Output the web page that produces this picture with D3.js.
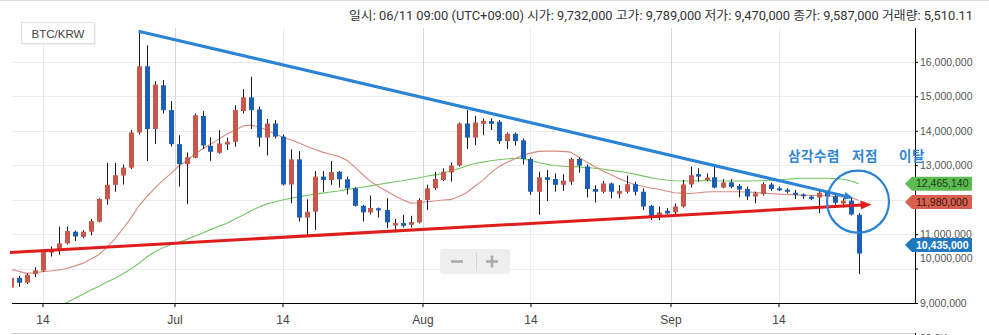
<!DOCTYPE html>
<html><head><meta charset="utf-8">
<script src="https://cdn.jsdelivr.net/npm/d3@7"></script>
<style>
html,body{margin:0;padding:0;background:#fff;}
svg{display:block;font-family:"Liberation Sans",Arial,sans-serif;}
</style></head><body>
<svg id="c" width="989" height="335"></svg>
<script>
// ---- data (prices in million KRW) ----
const dates = ["2019-06-10","2019-06-11","2019-06-12","2019-06-13","2019-06-14","2019-06-15","2019-06-16","2019-06-17","2019-06-18","2019-06-19","2019-06-20","2019-06-21","2019-06-22","2019-06-23","2019-06-24","2019-06-25","2019-06-26","2019-06-27","2019-06-28","2019-06-29","2019-06-30",
"2019-07-01","2019-07-02","2019-07-03","2019-07-04","2019-07-05","2019-07-06","2019-07-07","2019-07-08","2019-07-09","2019-07-10","2019-07-11","2019-07-12","2019-07-13","2019-07-14","2019-07-15","2019-07-16","2019-07-17","2019-07-18","2019-07-19","2019-07-20","2019-07-21","2019-07-22","2019-07-23","2019-07-24","2019-07-25","2019-07-26","2019-07-27","2019-07-28","2019-07-29","2019-07-30","2019-07-31",
"2019-08-01","2019-08-02","2019-08-03","2019-08-04","2019-08-05","2019-08-06","2019-08-07","2019-08-08","2019-08-09","2019-08-10","2019-08-11","2019-08-12","2019-08-13","2019-08-14","2019-08-15","2019-08-16","2019-08-17","2019-08-18","2019-08-19","2019-08-20","2019-08-21","2019-08-22","2019-08-23","2019-08-24","2019-08-25","2019-08-26","2019-08-27","2019-08-28","2019-08-29","2019-08-30","2019-08-31",
"2019-09-01","2019-09-02","2019-09-03","2019-09-04","2019-09-05","2019-09-06","2019-09-07","2019-09-08","2019-09-09","2019-09-10","2019-09-11","2019-09-12","2019-09-13","2019-09-14","2019-09-15","2019-09-16","2019-09-17","2019-09-18","2019-09-19","2019-09-20","2019-09-21","2019-09-22","2019-09-23","2019-09-24"];

const open = [9.45,9.732,9.59,9.84,9.94,10.46,10.54,10.73,11.07,10.92,11.07,11.36,12.01,12.43,12.70,12.93,13.95,15.87,14.05,15.32,14.60,
13.61,13.03,13.22,14.43,13.56,13.36,13.60,13.68,14.57,14.97,14.62,13.80,14.21,13.83,12.44,13.17,11.48,11.65,12.67,12.57,12.81,12.59,12.33,11.82,11.63,11.75,11.70,11.25,11.32,11.27,11.34,
11.99,12.33,12.57,12.79,12.99,14.21,13.80,14.20,14.28,14.26,13.70,13.91,13.72,13.18,12.23,12.65,12.60,12.43,12.52,13.18,12.96,12.31,12.23,12.47,12.17,12.23,12.45,12.23,11.82,11.51,11.68,
11.63,11.80,12.44,12.74,12.57,12.65,12.35,12.50,12.40,12.31,12.09,12.16,12.44,12.33,12.29,12.20,12.15,12.09,12.06,12.23,12.10,11.89,11.97,11.56];
const high = [9.80,9.789,9.86,10.04,10.54,10.64,11.22,11.22,11.10,11.12,11.44,12.04,13.07,13.07,13.02,14.02,16.89,16.48,15.44,15.47,14.86,
13.87,13.37,14.50,14.57,13.81,14.02,13.80,14.74,15.21,15.57,14.70,14.34,14.31,13.89,13.46,13.41,12.01,12.83,12.83,13.12,12.83,12.67,12.36,11.85,12.12,11.77,12.04,11.44,11.56,11.53,12.04,
12.43,12.81,12.91,13.08,14.24,14.60,14.43,14.36,14.36,14.31,13.95,13.95,13.78,13.22,12.81,12.86,12.76,12.74,13.22,13.23,13.02,12.42,12.54,12.50,12.42,12.70,12.52,12.33,11.85,11.80,11.75,
11.89,12.57,12.96,12.91,12.76,13.00,12.60,12.60,12.45,12.38,12.23,12.50,12.49,12.38,12.33,12.28,12.18,12.12,12.28,12.26,12.14,12.04,12.06,11.61];
const low = [9.40,9.47,9.55,9.75,9.91,10.35,10.40,10.70,10.80,10.88,10.96,11.34,11.85,12.23,12.44,12.89,13.89,13.12,13.62,14.50,13.54,
12.38,11.87,13.20,13.47,13.13,13.33,13.44,13.54,14.50,14.05,13.54,13.28,13.78,12.41,11.89,11.36,10.93,11.12,12.23,12.43,12.35,12.15,11.80,11.36,11.57,11.48,11.17,11.05,11.19,11.19,11.31,
11.70,12.28,12.54,12.52,12.96,13.47,13.58,13.87,14.02,13.62,13.47,13.57,13.02,12.14,11.56,11.96,12.23,12.25,12.43,12.78,12.06,11.92,12.18,12.04,12.04,12.18,12.12,11.70,11.41,11.41,11.57,
11.57,11.77,12.35,12.52,12.54,12.33,12.33,12.33,12.07,11.99,11.89,12.12,12.26,12.25,12.18,12.02,12.02,11.99,11.61,12.06,11.85,11.77,11.54,9.84];
const close = [9.73,9.587,9.82,9.95,10.49,10.54,10.73,11.09,10.93,11.07,11.38,12.02,12.43,12.71,12.93,13.95,15.87,14.05,15.34,14.60,13.61,
13.03,13.23,14.45,13.57,13.39,13.63,13.68,14.60,14.97,14.60,13.80,14.21,13.83,12.44,13.17,11.48,11.65,12.67,12.57,12.80,12.59,12.33,11.82,11.63,11.76,11.69,11.34,11.32,11.24,11.35,11.99,
12.33,12.60,12.81,12.99,14.21,13.80,14.24,14.29,14.20,13.70,13.91,13.70,13.18,12.23,12.65,12.57,12.43,12.55,13.18,12.99,12.31,12.23,12.47,12.23,12.25,12.45,12.23,11.80,11.51,11.63,11.60,
11.80,12.44,12.71,12.67,12.64,12.35,12.50,12.37,12.29,12.09,12.18,12.45,12.31,12.27,12.23,12.14,12.10,12.02,12.20,12.10,11.91,11.97,11.57,10.435];
const maShort = [9.98,9.92,9.86,9.88,9.91,9.93,9.96,10.00,10.07,10.15,10.27,10.40,10.60,10.85,11.14,11.45,11.80,12.08,12.32,12.55,12.75,
12.97,13.12,13.32,13.47,13.61,13.75,13.90,14.01,14.13,14.17,14.11,14.02,13.91,13.82,13.74,13.65,13.55,13.46,13.38,13.32,13.26,13.15,12.96,12.73,12.53,12.38,12.25,12.12,12.00,11.90,11.91,
11.94,11.96,11.99,12.00,12.09,12.20,12.38,12.56,12.77,12.95,13.08,13.18,13.29,13.35,13.40,13.41,13.41,13.40,13.38,13.24,13.09,12.96,12.84,12.73,12.62,12.52,12.44,12.39,12.34,12.30,12.25,
12.20,12.19,12.18,12.20,12.22,12.23,12.23,12.23,12.23,12.22,12.21,12.19,12.18,12.16,12.15,12.14,12.13,12.12,12.12,12.11,12.10,12.08,12.06,11.98];
const maLong = [8.25,8.35,8.45,8.55,8.66,8.78,8.90,9.01,9.13,9.25,9.37,9.48,9.60,9.71,9.84,9.98,10.14,10.33,10.48,10.60,10.69,
10.76,10.84,10.94,11.03,11.13,11.23,11.31,11.43,11.54,11.67,11.78,11.87,11.93,11.99,12.04,12.08,12.12,12.16,12.19,12.22,12.25,12.29,12.33,12.36,12.40,12.44,12.48,12.52,12.55,12.59,12.63,
12.68,12.72,12.76,12.83,12.90,12.98,13.05,13.09,13.13,13.16,13.18,13.20,13.19,13.14,13.08,13.03,12.99,12.97,12.96,12.95,12.93,12.91,12.89,12.85,12.82,12.79,12.74,12.69,12.64,12.60,12.57,
12.55,12.54,12.54,12.55,12.56,12.55,12.54,12.54,12.54,12.54,12.55,12.55,12.56,12.57,12.59,12.61,12.62,12.62,12.62,12.62,12.61,12.59,12.55,12.46514];
const volumeShown = "5,510.11";
const yTicks = [9,10,11,12,13,14,15,16];
const xTickDates = ["2019-06-14T12:00Z","2019-07-01T00:00Z","2019-07-14T12:00Z","2019-08-01T00:00Z","2019-08-14T12:00Z","2019-09-01T00:00Z","2019-09-14T12:00Z"];
const xTickLabels = ["14","Jul","14","Aug","14","Sep","14"];
const upperTrend = [["2019-06-26T12:00Z",16.89],["2019-09-23T20:00Z",12.05]];
const lowerTrend = [["2019-06-10T10:30Z",10.467],["2019-09-26T03:30Z",11.86]];
const breakPoint = ["2019-09-24T12:00Z",11.94];
const annotationWords = ["삼각수렴","저점","이탈"];
const pair = "BTC/KRW";
const lowerPanelLabel = "20.0K";

// ---- scales ----
const svg = d3.select("#c");
const xs = d3.scaleUtc().domain([new Date("2019-06-14T12:00Z"), new Date("2019-09-14T12:00Z")]).range([42.5, 778.5]);
const ys = d3.scaleLinear().domain([9,16]).range([303, 61.85]);
const day = s => new Date(s + "T12:00:00Z");
const L = 12, R = 915, T = 28, B = 303;
const fmt = d3.format(",");
const krw = v => fmt(Math.round(v*1e6));

svg.append("line").attr("x1",0).attr("x2",989).attr("y1",0.5).attr("y2",0.5).attr("stroke","#dcdcdc");

svg.append("defs").append("clipPath").attr("id","plot").append("rect")
  .attr("x",L).attr("y",T).attr("width",R-L).attr("height",B-T);

// grid
const grid = svg.append("g");
grid.selectAll("line.h").data(yTicks.filter(v=>v>9)).join("line")
  .attr("x1",L).attr("x2",R).attr("y1",d=>Math.round(ys(d))+0.5).attr("y2",d=>Math.round(ys(d))+0.5)
  .attr("stroke","#ebebeb");
grid.selectAll("line.v").data(xTickDates).join("line")
  .attr("x1",d=>Math.round(xs(new Date(d)))+0.5).attr("x2",d=>Math.round(xs(new Date(d)))+0.5)
  .attr("y1",T).attr("y2",B)
  .attr("stroke",(d,i)=>xTickLabels[i]==="14" ? "#ececec" : "#d8d8d8");

const plot = svg.append("g").attr("clip-path","url(#plot)");
const idx = d3.range(dates.length);

// moving averages
const line = arr => d3.line().x(i=>xs(day(dates[i]))).y(i=>ys(arr[i]))(idx);
plot.append("path").attr("d",line(maLong)).attr("fill","none").attr("stroke","#74c765").attr("stroke-width",1.1);
plot.append("path").attr("d",line(maShort)).attr("fill","none").attr("stroke","#d98a7e").attr("stroke-width",1.1);

// candles
const up = "#c7584b", down = "#1d5fb8";
plot.selectAll("line.wick").data(idx).join("line")
  .attr("x1",i=>Math.round(xs(day(dates[i])))+0.5).attr("x2",i=>Math.round(xs(day(dates[i])))+0.5)
  .attr("y1",i=>ys(high[i])).attr("y2",i=>ys(low[i]))
  .attr("stroke","#1a1a1a").attr("stroke-width",1);
plot.selectAll("rect.body").data(idx).join("rect")
  .attr("x",i=>Math.round(xs(day(dates[i])))-2)
  .attr("width",5)
  .attr("y",i=>ys(Math.max(open[i],close[i])))
  .attr("height",i=>Math.max(1.2, Math.abs(ys(open[i])-ys(close[i]))))
  .attr("fill",i=>close[i]>=open[i]?up:down);

// axes
const xAxis = svg.append("g").attr("transform",`translate(0,${B})`)
  .call(d3.axisBottom(xs).tickValues(xTickDates.map(d=>new Date(d))).tickFormat((d,i)=>xTickLabels[i]).tickSize(4).tickPadding(8));
xAxis.select(".domain").attr("d",`M${L},0.5H${R}`).attr("stroke","#000");
xAxis.selectAll(".tick line").attr("stroke","#000");
xAxis.selectAll(".tick text").attr("font-size","12px").attr("fill","#444").attr("font-family","Liberation Sans, Arial, sans-serif");

const yAxis = svg.append("g").attr("transform",`translate(${R},0)`)
  .call(d3.axisRight(ys).tickValues(yTicks).tickFormat(d=>d===12?"":krw(d)).tickSize(3).tickPadding(2));
yAxis.select(".domain").attr("d",`M0.5,${T}V${B+0.5}`).attr("stroke","#000");
yAxis.selectAll(".tick line").attr("stroke","#000");
yAxis.selectAll(".tick text").attr("font-size","10.5px").attr("fill","#555").attr("font-family","Liberation Sans, Arial, sans-serif")
  .attr("dy",d=>d===10?"-0.65em":"0.32em");

// lower panel hint (its first label is cut by the bottom edge, as in the source)
svg.append("line").attr("x1",L).attr("x2",R).attr("y1",333.5).attr("y2",333.5).attr("stroke","#cfcfcf");
svg.append("line").attr("x1",R+0.5).attr("x2",R+0.5).attr("y1",333).attr("y2",335).attr("stroke","#000");
svg.append("text").attr("x",920).attr("y",342).attr("font-size","10.5px").attr("fill","#555").text(lowerPanelLabel);

// trend lines
function arrowLine(pts, color, w, al, aw){
  const p0=[xs(new Date(pts[0][0])),ys(pts[0][1])], p1=[xs(new Date(pts[1][0])),ys(pts[1][1])];
  const ang=Math.atan2(p1[1]-p0[1],p1[0]-p0[0]);
  const bx=p1[0]-al*Math.cos(ang), by=p1[1]-al*Math.sin(ang);
  svg.append("line").attr("x1",p0[0]).attr("y1",p0[1]).attr("x2",bx+1*Math.cos(ang)).attr("y2",by+1*Math.sin(ang))
    .attr("stroke",color).attr("stroke-width",w);
  const nx=-Math.sin(ang), ny=Math.cos(ang);
  svg.append("path").attr("d",`M${p1[0]},${p1[1]}L${bx+aw*nx},${by+aw*ny}L${bx-aw*nx},${by-aw*ny}Z`).attr("fill",color);
}
arrowLine(lowerTrend,"#e01d1d",3,11,4.5);
arrowLine(upperTrend,"#2b83d6",3,9,4);

// break circle + annotation
svg.append("circle").attr("cx",xs(new Date(breakPoint[0]))-0.5).attr("cy",ys(breakPoint[1])).attr("r",31)
  .attr("fill","none").attr("stroke","#2b83d6").attr("stroke-width",2.2);
const ann = svg.append("text").attr("y",161).attr("font-size","13.5px").attr("font-weight","bold")
  .attr("font-family","Noto Sans CJK KR, sans-serif").attr("fill","#2f86d6").attr("letter-spacing","0.6px");
const annX = [788, 852, 899];
ann.selectAll("tspan").data(annotationWords).join("tspan").attr("x",(d,i)=>annX[i]).text(d=>d);

// price labels
function priceTag(cy, val, fill, txt, bold){
  const g = svg.append("g");
  g.append("path").attr("d",`M905,${cy}L912,${cy-7}H972V${cy+7}H912Z`).attr("fill",fill);
  g.append("text").attr("x",916).attr("y",cy+3.7).attr("font-size","10.5px").attr("fill",txt)
    .attr("font-weight",bold?"bold":"normal").text(krw(val));
}
const nL = maLong.length-1;
priceTag(ys(maLong[nL]), maLong[nL], "#5dbb52", "#1d3d17", false);
priceTag(ys(maShort[nL])+1.7, maShort[nL], "#d7604f", "#3a1410", false);
priceTag(ys(close[nL])-8.5, close[nL], "#1f78c0", "#ffffff", true);

// legend box
const lg = svg.append("g");
lg.append("rect").attr("x",22.5).attr("y",23.5).attr("width",73).attr("height",21).attr("fill","#bbb").attr("opacity",0.35);
lg.append("rect").attr("x",21.5).attr("y",22.5).attr("width",73).attr("height",21).attr("fill","#fff").attr("stroke","#e0e0e0");
lg.append("text").attr("x",58).attr("y",37.5).attr("text-anchor","middle").attr("font-size","11.5px").attr("fill","#444").text(pair);

// zoom buttons
const zb = svg.append("g");
zb.append("rect").attr("x",440).attr("y",249).attr("width",70).attr("height",25).attr("rx",3).attr("fill","#eeeeee");
zb.append("line").attr("x1",476.5).attr("x2",476.5).attr("y1",253).attr("y2",271).attr("stroke","#d6d6d6");
zb.append("line").attr("x1",451).attr("x2",463).attr("y1",261.5).attr("y2",261.5).attr("stroke","#ababab").attr("stroke-width",2.6);
zb.append("line").attr("x1",486).attr("x2",498).attr("y1",261.5).attr("y2",261.5).attr("stroke","#ababab").attr("stroke-width",2.6);
zb.append("line").attr("x1",492).attr("x2",492).attr("y1",255.5).attr("y2",267.5).attr("stroke","#ababab").attr("stroke-width",2.6);

// header
const hi = 1, md = dates[hi].slice(5).replace("-","/");
const header = `일시: ${md} 09:00 (UTC+09:00) 시가: ${krw(open[hi])} 고가: ${krw(high[hi])} 저가: ${krw(low[hi])} 종가: ${krw(close[hi])} 거래량: ${volumeShown}`;
svg.append("text").attr("x",973).attr("y",19.5).attr("text-anchor","end")
  .attr("font-family","Roboto, Noto Sans CJK KR, sans-serif").attr("font-size","12.5px").attr("fill","#333")
  .attr("textLength",624).attr("lengthAdjust","spacingAndGlyphs").text(header);
</script>
</body></html>
